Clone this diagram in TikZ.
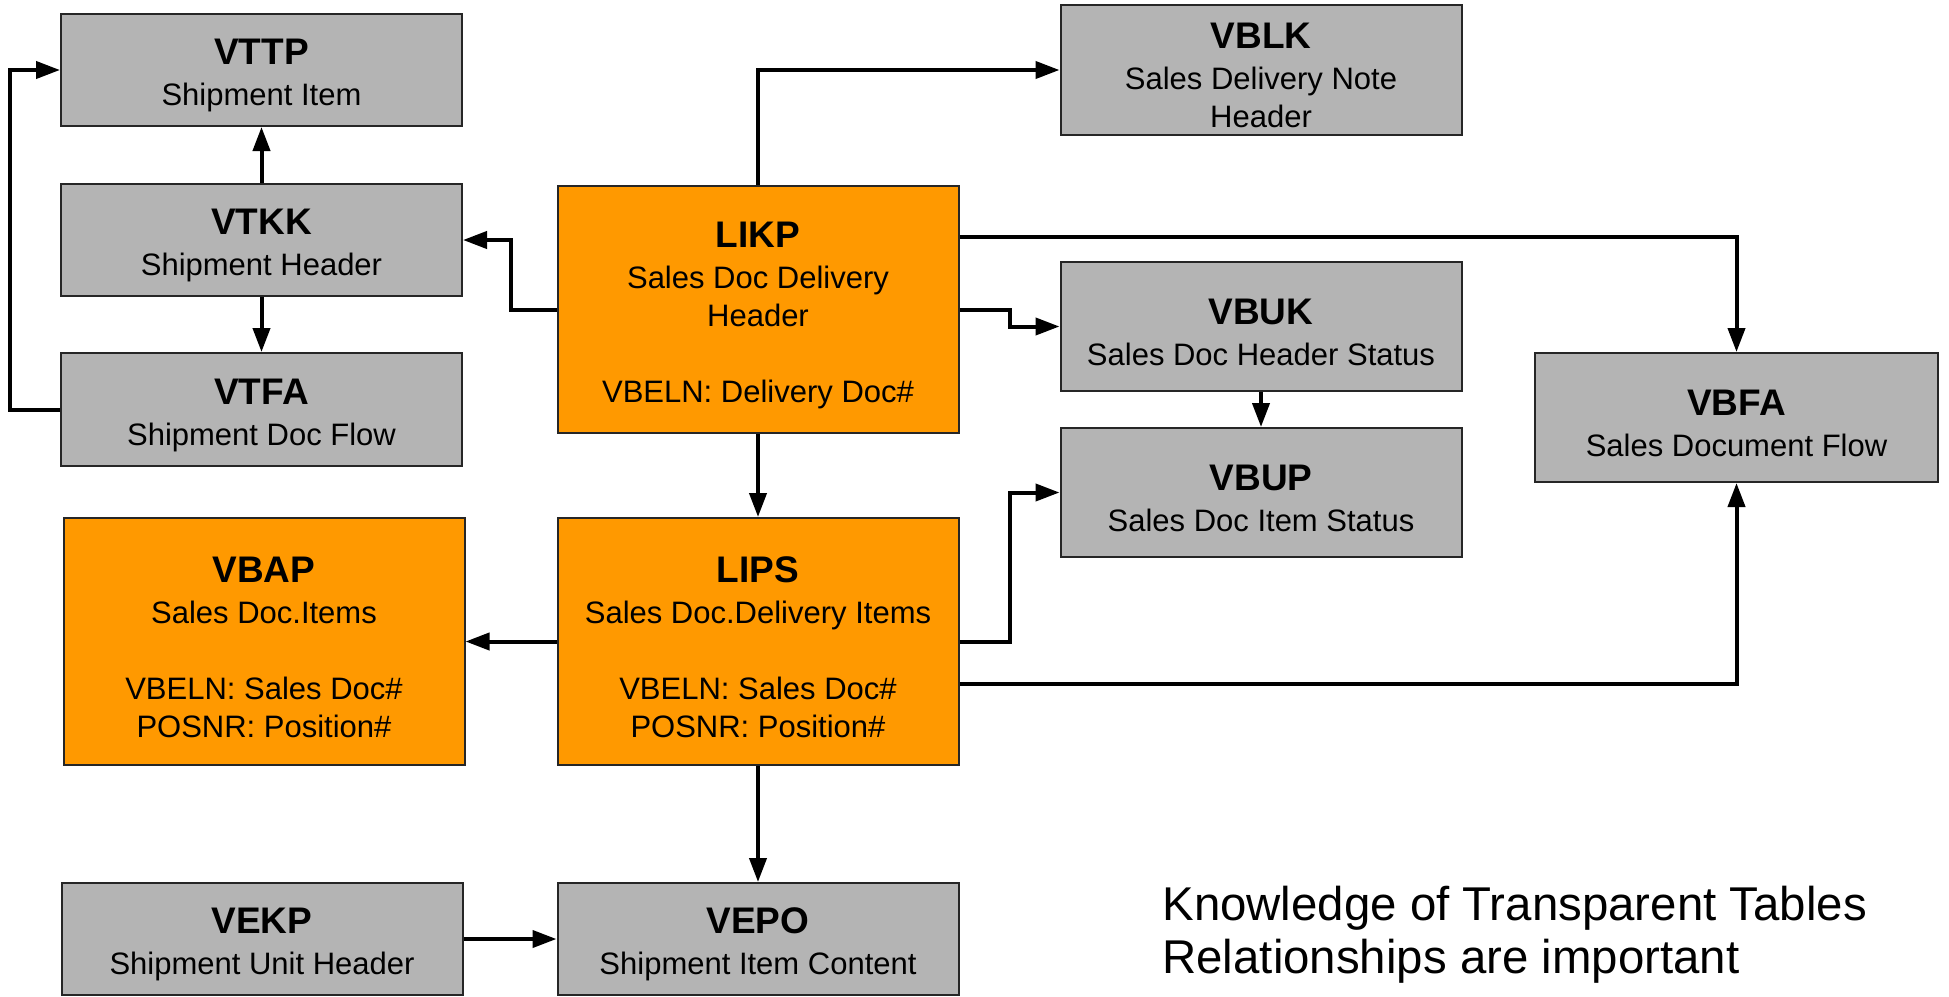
\documentclass[tikz,border=0pt]{standalone}
\usepackage{fontspec}
\setmainfont{Liberation Sans}
\usetikzlibrary{arrows.meta}

\definecolor{naranja}{RGB}{255,153,0}
\definecolor{gris}{RGB}{180,180,180}

\tikzset{
	tabla/.style={draw=black!85, line width=1pt, fill=gris, minimum width=200.5pt, align=center, inner sep=0pt, font=\fontsize{15.5}{19}\selectfont},
	tablaclave/.style={tabla, fill=naranja},
	flecha/.style={line width=2pt, -{Triangle[length=12pt,width=8.5pt]}},
	nota/.style={anchor=base west, align=left, inner sep=0pt, font=\fontsize{23.7}{26.5}\selectfont}
}
\newcommand{\titulo}[1]{{\fontsize{18.5}{19}\selectfont\bfseries\rule{0pt}{18.5pt}#1}}

\begin{document}
\begin{tikzpicture}[x=0.5pt, y=-0.5pt]
		\useasboundingbox (0,0) rectangle (1949,996);

		% Tablas de transporte
		\node[tabla, minimum height=56pt] (vttp) at (261.5,70) {\titulo{VTTP}\\[1.5pt]Shipment Item};
		\node[tabla, minimum height=56pt] (vtkk) at (261.5,240) {\titulo{VTKK}\\[1.5pt]Shipment Header};
		\node[tabla, minimum height=56.5pt] (vtfa) at (261.5,409.5) {\titulo{VTFA}\\[1.5pt]Shipment Doc Flow};

		% Entrega
		\node[tablaclave, minimum height=123.5pt] (likp) at (758,309.5) {\titulo{LIKP}\\[1.5pt]Sales Doc Delivery\\Header\\[19pt]VBELN: Delivery Doc\#};
		\node[tablaclave, minimum height=123.5pt] (lips) at (758,641.5) {\titulo{LIPS}\\[1.5pt]Sales Doc.Delivery Items\\[19pt]VBELN: Sales Doc\#\\POSNR: Position\#};
		\node[tablaclave, minimum height=123.5pt] (vbap) at (264,641.5) {\titulo{VBAP}\\[1.5pt]Sales Doc.Items\\[19pt]VBELN: Sales Doc\#\\POSNR: Position\#};

		% Documentos de venta
		\node[tabla, minimum height=65pt] (vblk) at (1261,70) {\titulo{VBLK}\\[1.5pt]Sales Delivery Note\\Header};
		\node[tabla, minimum height=64.5pt] (vbuk) at (1261,326.5) {\titulo{VBUK}\\[1.5pt]Sales Doc Header Status};
		\node[tabla, minimum height=64.5pt] (vbup) at (1261,492.5) {\titulo{VBUP}\\[1.5pt]Sales Doc Item Status};
		\node[tabla, minimum width=201.5pt, minimum height=64.5pt] (vbfa) at (1736.5,417.5) {\titulo{VBFA}\\[1.5pt]Sales Document Flow};

		% Embalaje
		\node[tabla, minimum height=56pt] (vekp) at (262,939) {\titulo{VEKP}\\[1.5pt]Shipment Unit Header};
		\node[tabla, minimum height=56pt] (vepo) at (758,939) {\titulo{VEPO}\\[1.5pt]Shipment Item Content};

		% Nota
		\node[nota] (nota) at (1162,973) {Knowledge of Transparent Tables\\Relationships are important};

		% Flechas
		\draw[flecha] (vtfa.west) -- ++(-50,0) |- (vttp.west);
		\draw[flecha] (vtkk.north) -- (vttp.south);
		\draw[flecha] (vtkk.south) -- (vtfa.north);
		\draw[flecha] (likp.west) -- ++(-46,0) |- (vtkk.east);
		\draw[flecha] (likp.north) |- (vblk.west);
		\draw[flecha] ([yshift=36.25pt]likp.east) -| (vbfa.north);
		\draw[flecha] (likp.east) -- ++(50,0) |- (vbuk.west);
		\draw[flecha] (vbuk.south) -- (vbup.north);
		\draw[flecha] (likp.south) -- (lips.north);
		\draw[flecha] (lips.east) -- ++(50,0) |- (vbup.west);
		\draw[flecha] ([yshift=-21.25pt]lips.east) -| (vbfa.south);
		\draw[flecha] (lips.west) -- (vbap.east);
		\draw[flecha] (lips.south) -- (vepo.north);
		\draw[flecha] (vekp.east) -- (vepo.west);
	\end{tikzpicture}
\end{document}
